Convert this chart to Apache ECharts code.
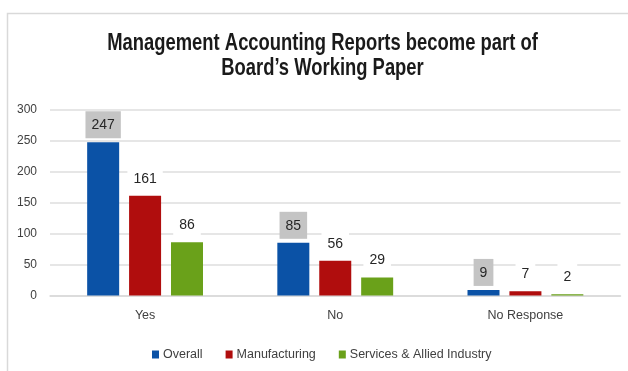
<!DOCTYPE html>
<html>
<head>
<meta charset="utf-8">
<style>
  html, body { margin: 0; padding: 0; background: #ffffff; }
  #chart { width: 628px; height: 371px; }
</style>
<script src="https://cdn.jsdelivr.net/npm/echarts@6/dist/echarts.min.js"></script>
</head>
<body>
<div id="chart"></div>
<script>
// Survey responses by sector
const categories = ['Yes', 'No', 'No Response'];
const overall = [247, 85, 9];
const manufacturing = [161, 56, 7];
const services = [86, 29, 2];
const yTicks = [0, 50, 100, 150, 200, 250, 300];
const titleText = 'Management Accounting Reports become part of\nBoard\u2019s Working Paper';

const SANS = '"Liberation Sans", Arial, sans-serif';

function valueLabel(bg) {
  return {
    show: true,
    position: 'top',
    distance: 4,
    fontFamily: SANS,
    fontSize: 14,
    color: '#262626',
    backgroundColor: bg,
    padding: [7, 6, 6, 6]
  };
}

const chart = echarts.init(document.getElementById('chart'), null, { renderer: 'canvas' });

chart.setOption({
  animation: false,
  backgroundColor: '#ffffff',
  graphic: [
    {
      // chart frame
      type: 'rect',
      left: 5,
      top: 11,
      shape: { width: 700, height: 420 },
      style: { fill: 'none', stroke: '#d9d9d9', lineWidth: 1.5 },
      silent: true,
      z: -10
    },
    {
      // condensed two-line heading
      type: 'group',
      x: 322.5,
      y: 31,
      scaleX: 0.767,
      children: [{
        type: 'text',
        x: 0,
        y: 0,
        style: {
          text: titleText,
          font: 'bold 24px "Liberation Sans", Arial, sans-serif',
          lineHeight: 25,
          align: 'center',
          verticalAlign: 'top',
          fill: '#1a1a1a'
        }
      }]
    }
  ],
  legend: {
    left: 152,
    top: 348,
    padding: 0,
    itemWidth: 7,
    itemHeight: 8,
    itemGap: 23,
    icon: 'rect',
    textStyle: { fontFamily: SANS, fontSize: 12.5, color: '#404040', padding: [0, 0, 0, -1] },
    data: ['Overall', 'Manufacturing', 'Services & Allied Industry']
  },
  grid: {
    left: 50,
    right: 7.5,
    top: 109.5,
    bottom: 75.5,
    containLabel: false
  },
  xAxis: {
    type: 'category',
    data: categories,
    axisTick: { show: false },
    axisLine: { lineStyle: { color: '#d9d9d9', width: 1.5 } },
    axisLabel: { fontFamily: SANS, fontSize: 12.5, color: '#404040', margin: 14 }
  },
  yAxis: {
    type: 'value',
    min: yTicks[0],
    max: yTicks[yTicks.length - 1],
    interval: yTicks[1] - yTicks[0],
    axisLine: { show: false },
    axisTick: { show: false },
    axisLabel: { fontFamily: SANS, fontSize: 12, color: '#404040', margin: 13 },
    splitLine: { lineStyle: { color: '#dedede', width: 1.5 } }
  },
  series: [
    {
      name: 'Overall',
      type: 'bar',
      data: overall,
      barWidth: 32,
      barGap: '31%',
      itemStyle: { color: '#0b52a6' },
      label: valueLabel('#c4c4c4')
    },
    {
      name: 'Manufacturing',
      type: 'bar',
      data: manufacturing,
      barWidth: 32,
      barGap: '31%',
      itemStyle: { color: '#b00d0d' },
      label: valueLabel('#ffffff')
    },
    {
      name: 'Services & Allied Industry',
      type: 'bar',
      data: services,
      barWidth: 32,
      barGap: '31%',
      itemStyle: { color: '#6aa11a' },
      label: valueLabel('#ffffff')
    }
  ]
});
</script>
</body>
</html>
